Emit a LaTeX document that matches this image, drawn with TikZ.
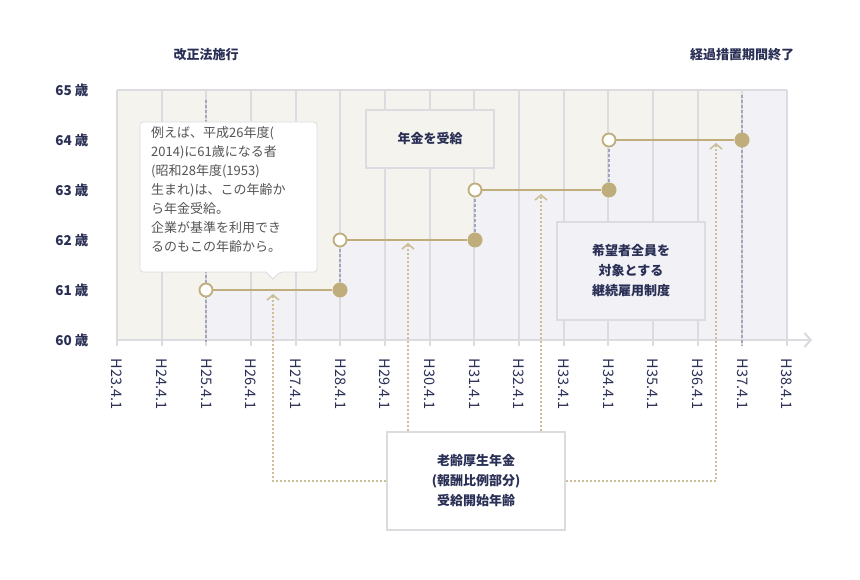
\documentclass[tikz,border=0pt]{standalone}
\usepackage{fontspec}
\setmainfont{Noto Sans CJK JP}
\usetikzlibrary{arrows.meta, positioning, calc}
\definecolor{navy}{HTML}{2A2F55}
\definecolor{gold}{HTML}{BFAE7B}
\definecolor{beige}{HTML}{F5F3EE}
\definecolor{lav}{HTML}{F1F1F6}
\definecolor{gridgray}{HTML}{DCDCE0}
\definecolor{dashgray}{HTML}{A4A4BC}
\definecolor{txtgray}{HTML}{555555}

\begin{document}
\begin{tikzpicture}[x=1pt, y=-1pt,
  every node/.style={font=\fontsize{13}{16}\selectfont, text=navy},
  gridline/.style={gridgray, line width=2.2pt},
  guide/.style={dashgray, line width=2pt, dash pattern=on 3pt off 2pt},
  step line/.style={gold, line width=2.5pt},
  opendot/.style={circle, draw=gold, fill=white, line width=1.8pt, minimum size=13pt, inner sep=0pt},
  fulldot/.style={circle, fill=gold, minimum size=15pt, inner sep=0pt},
  labelbox/.style={draw=gridgray, line width=2pt, align=center, font=\fontsize{13}{20}\selectfont\bfseries},
  lead/.style={gold!80, line width=1.8pt, dash pattern=on 2pt off 2pt},
  barb/.style={-{Straight Barb[length=5pt, width=12pt, line width=1.6pt]}},
]
\useasboundingbox (0,0) rectangle (860,580);

% background areas
\fill[beige] (117,90) rectangle (787,340);
\fill[lav] (206,340) -- (206,290) -- (340,290) -- (340,240) -- (475,240) -- (475,190)
  -- (609,190) -- (609,140) -- (742,140) -- (742,90) -- (787,90) -- (787,340) -- cycle;

% grid
\foreach \i [evaluate=\i as \x using 117+44.67*(\i-23)] in {23,...,38} {
  \draw[gridline] (\x,90) -- (\x,346);
  \node[rotate=-90, anchor=west, font=\fontsize{14.5}{16}\selectfont] at (\x,355) {H\i.4.1};
}
\draw[gridline] (117,90) -- (787,90);
\draw[gridline, -{Straight Barb[length=6pt, width=14pt]}] (117,340) -- (812,340);

% age labels
\foreach \a [count=\k from 0] in {65,64,63,62,61,60}
  \node[anchor=east, font=\fontsize{13.5}{16}\selectfont\bfseries] at (92,90+50*\k) {\a\ 歳};

% guide lines
\node[font=\fontsize{13}{16}\selectfont\bfseries] (law) at (206,55) {改正法施行};
\node[font=\fontsize{13}{16}\selectfont\bfseries] (end) at (742,55) {経過措置期間終了};
\draw[guide] (206,100) -- (206,342);
\draw[guide] (742,95) -- (742,346);

% steps
\node[opendot] (o1) at (206,290) {};
\node[fulldot] (f1) at (340,290) {};
\node[opendot] (o2) at (340,240) {};
\node[fulldot] (f2) at (475,240) {};
\node[opendot] (o3) at (475,190) {};
\node[fulldot] (f3) at (609,190) {};
\node[opendot] (o4) at (609,140) {};
\node[fulldot] (f4) at (742,140) {};
\draw[guide, line width=1.6pt] (f1) -- (o2);
\draw[guide, line width=1.6pt] (f2) -- (o3);
\draw[guide, line width=1.6pt] (f3) -- (o4);
\foreach \a/\b in {o1/f1, o2/f2, o3/f3, o4/f4}
  \draw[step line] (\a) -- (\b);

% callout
\filldraw[fill=white, draw=gridgray, line width=0.8pt, rounded corners=3pt]
  (140,122) -- (317,122) -- (317,272) -- (280,272) [sharp corners] -- (273,279) -- (266,272) [rounded corners=3pt] -- (140,272) -- cycle;
\node[anchor=north west, align=left, text=txtgray, font=\fontsize{13}{19}\selectfont, inner sep=0pt] (note) at (151,126)
  {例えば、平成26年度(\\2014)に61歳になる者\\(昭和28年度(1953)\\生まれ)は、この年齢か\\ら年金受給。\\企業が基準を利用でき\\るのもこの年齢から。};

% boxes
\node[labelbox, fill=beige, minimum width=128pt, minimum height=58pt] (recv) at (430,139) {年金を受給};
\node[labelbox, fill=lav, minimum width=148pt, minimum height=98pt] (hope) at (631,271) {希望者全員を\\対象とする\\継続雇用制度};
\node[labelbox, fill=white, minimum width=178pt, minimum height=98pt] (age) at (476,481) {老齢厚生年金\\(報酬比例部分)\\受給開始年齢};

% leaders
\coordinate (a1) at (273,294);
\coordinate (a2) at (408,243);
\coordinate (a3) at (541,194);
\coordinate (a4) at (716,143);
\draw[lead, barb] (age.west) -| (a1);
\draw[lead, barb] (age.north -| a2) -- (a2);
\draw[lead, barb] (age.north -| a3) -- (a3);
\draw[lead, barb] (age.east) -| (a4);
\end{tikzpicture}
\end{document}
